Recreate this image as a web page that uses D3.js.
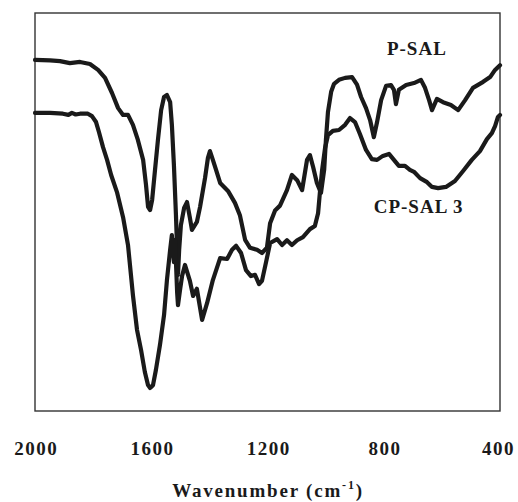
<!DOCTYPE html>
<meta charset="utf-8">
<style>
    body {
        margin: 0;
        background: #fff;
    }
    .lbl {
        font-family: "Liberation Serif", "Times New Roman", serif;
        font-weight: bold;
        fill: #1a1a1a;
    }
    .spectrum {
        fill: none;
        stroke: #1a1a1a;
        stroke-width: 4.2px;
        stroke-linejoin: round;
        stroke-linecap: round;
    }
</style>
<body>
<script src="https://cdn.jsdelivr.net/npm/d3@7"></script>
<script>
    // wavenumbers (cm-1) and transmittance (arbitrary %)
    const psalWn = [2000, 1948, 1914, 1880, 1845, 1811, 1783, 1759, 1735, 1714, 1697, 1680, 1663, 1646, 1628,
        1618, 1611, 1604, 1597, 1587, 1577, 1566, 1556, 1546, 1535, 1529, 1522, 1515, 1511, 1508, 1504,
        1498, 1487, 1477, 1467, 1460, 1443, 1432, 1415, 1405, 1398, 1388, 1377, 1363, 1336, 1312, 1295,
        1277, 1260, 1236, 1219, 1202, 1191, 1174, 1157, 1133, 1116, 1098, 1081, 1064, 1054, 1043, 1030,
        1016, 1005, 999, 992, 981, 971, 954, 933, 909, 892, 878, 861, 847, 834, 823, 809, 792, 775, 765,
        758, 748, 723, 696, 672, 658, 644, 634, 617, 596, 569, 544, 520, 493, 458, 434, 417, 400];
    const psalT = [88.2, 88.1, 87.9, 87.4, 87.7, 87.2, 85.7, 83.7, 79.9, 76.1, 74.4, 74.4, 71.9, 68.1, 63.1,
        56.8, 51.3, 50.5, 53.0, 60.6, 68.1, 75.6, 78.9, 79.4, 77.6, 71.9, 61.8, 49.2, 40.5, 34.2, 40.5,
        46.7, 51.0, 52.5, 48.5, 45.5, 47.5, 51.3, 58.5, 63.6, 65.3, 63.1, 60.6, 57.3, 55.3, 52.3, 49.2,
        43.0, 41.0, 40.5, 39.7, 41.0, 47.2, 50.4, 51.6, 55.5, 59.3, 58.0, 55.5, 63.1, 64.3, 61.3, 57.3,
        54.8, 60.6, 68.1, 75.1, 80.2, 82.2, 83.2, 83.7, 83.9, 82.0, 78.9, 76.1, 73.1, 68.8, 72.6, 78.1,
        81.7, 81.9, 80.7, 77.1, 80.7, 81.9, 82.4, 83.2, 81.2, 78.1, 75.6, 78.4, 77.6, 76.9, 75.6, 78.1,
        81.2, 82.7, 83.9, 85.7, 86.9];

    const cpsalWn = [2000, 1948, 1904, 1885, 1873, 1860, 1845, 1818, 1804, 1790, 1780, 1766, 1752, 1738, 1718,
        1697, 1680, 1663, 1649, 1635, 1622, 1611, 1604, 1594, 1584, 1570, 1556, 1546, 1535, 1529, 1522,
        1518, 1511, 1508, 1501, 1494, 1484, 1467, 1456, 1443, 1425, 1408, 1388, 1363, 1339, 1322, 1308,
        1291, 1274, 1257, 1243, 1229, 1219, 1205, 1191, 1167, 1150, 1133, 1116, 1098, 1078, 1054, 1037,
        1026, 1019, 1012, 1002, 992, 975, 954, 933, 916, 899, 882, 861, 841, 823, 803, 782, 765, 748,
        727, 710, 696, 675, 651, 634, 613, 586, 555, 527, 497, 469, 445, 428, 417, 407, 400];
    const cpsalT = [74.9, 74.9, 74.7, 74.4, 74.9, 74.5, 74.7, 74.7, 74.1, 72.6, 70.1, 66.3, 63.1, 59.3, 55.0,
        48.7, 41.7, 29.1, 20.4, 15.3, 9.8, 6.5, 5.8, 6.5, 10.3, 16.6, 24.1, 32.9, 40.5, 44.2, 37.4,
        43.0, 29.9, 26.6, 30.4, 33.9, 36.7, 32.7, 28.9, 30.7, 22.9, 27.1, 32.9, 38.4, 38.2, 40.5, 41.5,
        39.7, 35.4, 33.9, 34.2, 31.9, 32.7, 37.4, 42.2, 43.2, 41.7, 42.9, 41.7, 42.9, 43.7, 45.7, 46.5,
        49.7, 55.5, 60.6, 66.1, 69.3, 70.4, 70.6, 71.9, 73.6, 72.6, 69.6, 65.6, 63.3, 63.1, 64.1, 64.6,
        63.1, 61.6, 61.6, 60.6, 60.1, 58.5, 57.5, 56.3, 56.0, 56.3, 57.8, 60.3, 63.1, 65.3, 68.3, 69.8,
        71.6, 73.9, 74.4];

    const xTicks = [2000, 1600, 1200, 800, 400];

    const width = 518, height = 502;
    const margin = {top: 13, right: 18, bottom: 91, left: 35};
    const serif = '"Liberation Serif", "Times New Roman", serif';

    const svg = d3.select('body')
        .append('svg')
        .attr('width', width)
        .attr('height', height);

    const x = d3.scaleLinear()
        .domain([2000, 400])
        .range([margin.left, width - margin.right]);

    const y = d3.scaleLinear()
        .domain([0, 100])
        .range([height - margin.bottom, margin.top]);

    // frame
    svg.append('rect')
        .attr('x', x(2000))
        .attr('y', y(100))
        .attr('width', x(400) - x(2000))
        .attr('height', y(0) - y(100))
        .attr('fill', 'none')
        .attr('stroke', '#333')
        .attr('stroke-width', 1.4);

    // x axis, labels only
    const xAxis = d3.axisBottom(x)
        .tickValues(xTicks)
        .tickSizeInner(0)
        .tickSizeOuter(0)
        .tickPadding(31)
        .tickFormat(d3.format('d'));

    svg.append('g')
        .attr('class', 'x axis')
        .attr('transform', 'translate(0,' + y(0) + ')')
        .call(xAxis)
        .attr('font-family', serif)
        .attr('font-size', 19)
        .call(g => g.select('.domain').remove())
        .selectAll('text')
        .attr('class', 'lbl')
        .style('letter-spacing', '1.5px')
        .attr('dx', d => d === 400 ? '-2px' : '0.75px');

    // axis title
    const title = svg.append('text')
        .attr('class', 'lbl')
        .attr('x', 268)
        .attr('y', 497)
        .attr('text-anchor', 'middle')
        .style('font-size', '19px')
        .style('letter-spacing', '1.8px');
    title.append('tspan').text('Wavenumber (cm');
    title.append('tspan').attr('dy', -8).style('font-size', '12px').text('-1');
    title.append('tspan').attr('dy', 8).text(')');

    const line = d3.line()
        .x(d => x(d[0]))
        .y(d => y(d[1]));

    const psal = d3.zip(psalWn, psalT);
    const cpsal = d3.zip(cpsalWn, cpsalT);

    svg.append('path')
        .datum(psal)
        .attr('class', 'spectrum')
        .attr('d', line);

    svg.append('path')
        .datum(cpsal)
        .attr('class', 'spectrum')
        .attr('d', line);

    // curve labels
    svg.append('text')
        .attr('class', 'lbl')
        .attr('x', x(686))
        .attr('y', y(89.4))
        .attr('text-anchor', 'middle')
        .style('font-size', '19px')
        .style('letter-spacing', '1px')
        .text('P-SAL');

    svg.append('text')
        .attr('class', 'lbl')
        .attr('x', x(680))
        .attr('y', y(49.7))
        .attr('text-anchor', 'middle')
        .style('font-size', '19px')
        .style('letter-spacing', '1px')
        .text('CP-SAL 3');
</script>
</body>
